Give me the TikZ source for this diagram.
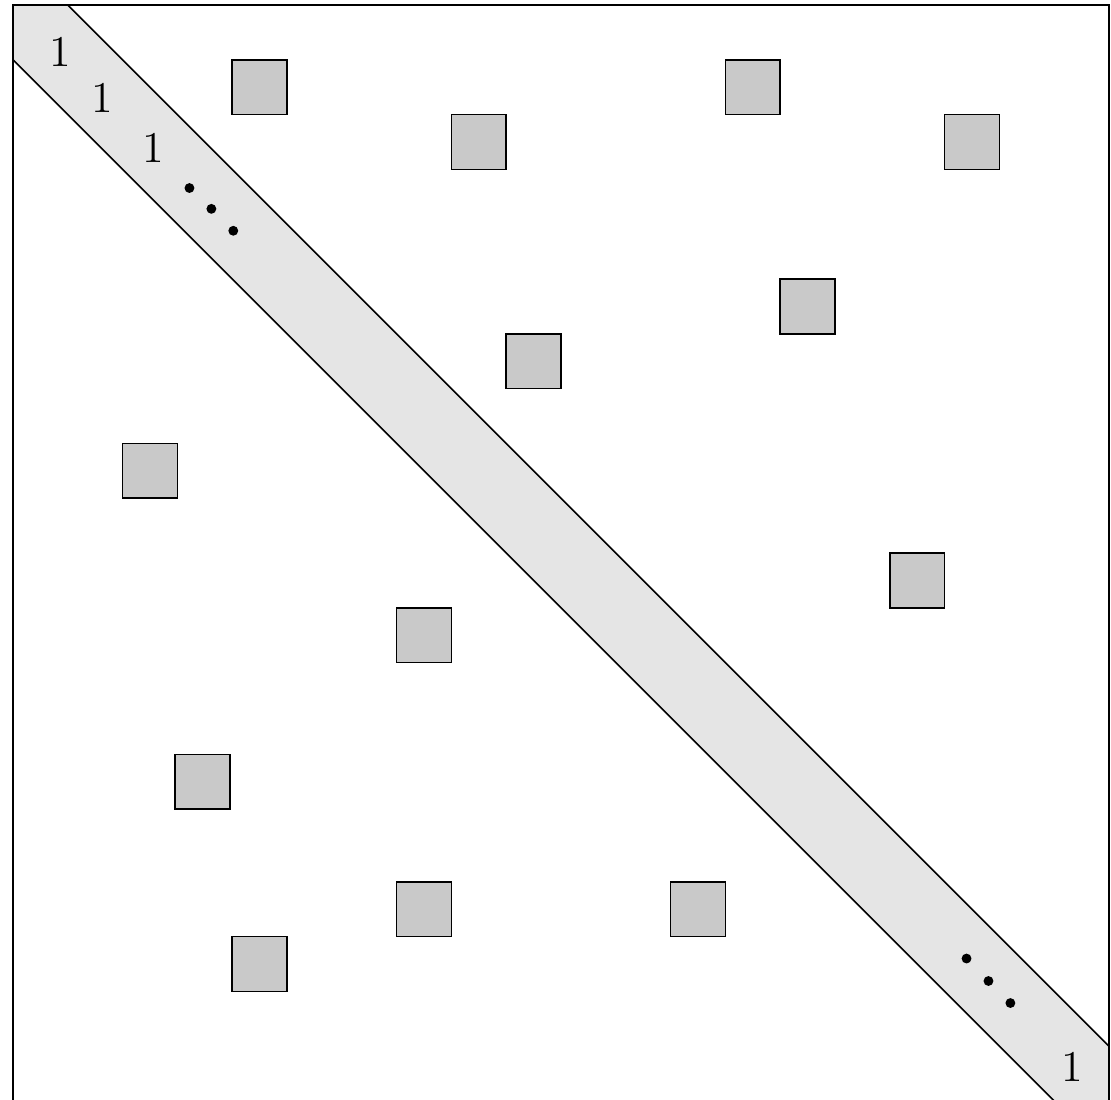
\documentclass[tikz,border=0pt]{standalone}
\begin{document}
\begin{tikzpicture}[
  cellbox/.style={draw, fill=gray!42, minimum size=0.5cm, inner sep=0pt},
  onelabel/.style={inner sep=0pt, font=\fontsize{11.4}{14}\selectfont}
]
\useasboundingbox (-0.1186,0.0183) rectangle (10.018,10.0456);
% band
\fill[gray!20] (0,10) -- (0.5,10) -- (10,0.5) -- (10,0) -- (9.5,0) -- (0,9.5) -- cycle;
\draw (0.5,10) -- (10,0.5);
\draw (0,9.5) -- (9.5,0);
% frame
\draw (0,0) rectangle (10,10);
% squares
\node[cellbox] (s1) at (2.25,9.25) {};
\node[cellbox] (s2) at (4.25,8.75) {};
\node[cellbox] (s3) at (6.75,9.25) {};
\node[cellbox] (s4) at (8.75,8.75) {};
\node[cellbox] (s5) at (7.25,7.25) {};
\node[cellbox] (s6) at (4.75,6.75) {};
\node[cellbox] (s7) at (1.25,5.75) {};
\node[cellbox] (s8) at (8.25,4.75) {};
\node[cellbox] (s9) at (3.75,4.25) {};
\node[cellbox] (s10) at (1.73,2.913) {};
\node[cellbox] (s11) at (3.75,1.75) {};
\node[cellbox] (s12) at (6.25,1.75) {};
\node[cellbox] (s13) at (2.25,1.25) {};
% labels
\node[onelabel] (o1) at (0.43,9.57) {1};
\node[onelabel] (o2) at (0.81,9.15) {1};
\node[onelabel] (o3) at (1.28,8.70) {1};
\node[onelabel] (o4) at (9.66,0.31) {1};
% dots
\fill (1.61,8.33) circle (0.045);
\fill (1.81,8.14) circle (0.045);
\fill (2.01,7.94) circle (0.045);
\fill (8.70,1.30) circle (0.045);
\fill (8.90,1.095) circle (0.045);
\fill (9.10,0.894) circle (0.045);
\end{tikzpicture}
\end{document}
